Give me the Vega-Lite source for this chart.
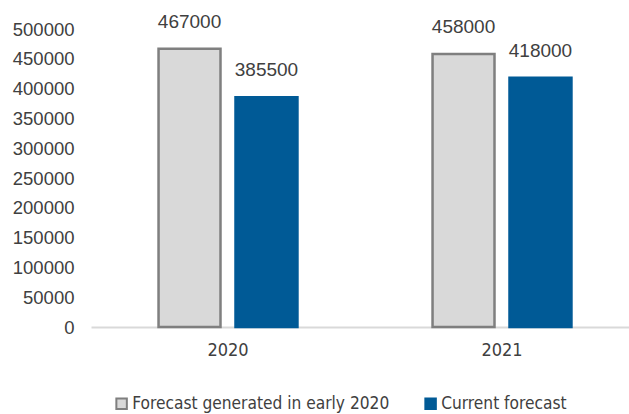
{
  "$schema": "https://vega.github.io/schema/vega-lite/v6.json",
  "width": 548,
  "height": 298,
  "autosize": {"type": "none"},
  "padding": {"left": 91, "top": 29, "right": 0, "bottom": 87},
  "background": "white",
  "config": {"view": {"stroke": null}, "font": "Liberation Sans"},
  "data": {"values": [
    {"year": "2020", "series": "Forecast generated in early 2020", "value": 467000},
    {"year": "2020", "series": "Current forecast", "value": 385500},
    {"year": "2021", "series": "Forecast generated in early 2020", "value": 458000},
    {"year": "2021", "series": "Current forecast", "value": 418000}
  ]},
  "encoding": {
    "x": {"field": "year", "type": "nominal", "scale": {"paddingInner": 0.493, "paddingOuter": 0.2465},
      "axis": {"title": null, "labelAngle": 0, "ticks": false, "domainColor": "#d9d9d9", "domainWidth": 2, "labelFontSize": 18, "labelColor": "#404040", "labelPadding": 14, "labelFont": "DejaVu Sans Condensed"}},
    "xOffset": {"field": "series", "type": "nominal", "sort": ["Forecast generated in early 2020", "Current forecast"], "scale": {"paddingInner": 0.195, "paddingOuter": 0}},
    "y": {"field": "value", "type": "quantitative", "scale": {"domain": [0, 500000]},
      "axis": {"title": null, "values": [0,50000,100000,150000,200000,250000,300000,350000,400000,450000,500000], "labelOverlap": false, "format": "d", "grid": false, "ticks": false, "domain": false, "labelFontSize": 18.5, "labelColor": "#404040", "labelPadding": 17}}
  },
  "layer": [
    {
      "mark": {"type": "bar", "strokeWidth": 2.5},
      "encoding": {
        "color": {"field": "series", "type": "nominal", "sort": ["Forecast generated in early 2020", "Current forecast"],
          "scale": {"domain": ["Forecast generated in early 2020", "Current forecast"], "range": ["#d9d9d9", "#005a96"]},
          "legend": {"title": null, "orient": "none", "direction": "horizontal", "legendX": 22, "legendY": 366, "symbolType": "square", "symbolSize": 110, "symbolStrokeWidth": 2, "labelFontSize": 17.2, "labelFont": "DejaVu Sans Condensed", "labelColor": "#404040", "labelLimit": 400, "columnPadding": 31, "labelOffset": 2}},
        "stroke": {"field": "series", "type": "nominal", "sort": ["Forecast generated in early 2020", "Current forecast"],
          "scale": {"domain": ["Forecast generated in early 2020", "Current forecast"], "range": ["#7f7f7f", "#005a96"]},
          "legend": {"title": null, "orient": "none", "direction": "horizontal", "legendX": 22, "legendY": 366, "symbolType": "square", "symbolSize": 110, "symbolStrokeWidth": 2, "labelFontSize": 17.2, "labelFont": "DejaVu Sans Condensed", "labelColor": "#404040", "labelLimit": 400, "columnPadding": 31, "labelOffset": 2}}
      }
    },
    {
      "mark": {"type": "text", "dy": -27, "baseline": "middle", "fontSize": 19, "color": "#404040"},
      "encoding": {"text": {"field": "value", "type": "quantitative", "format": "d"}}
    }
  ]
}
